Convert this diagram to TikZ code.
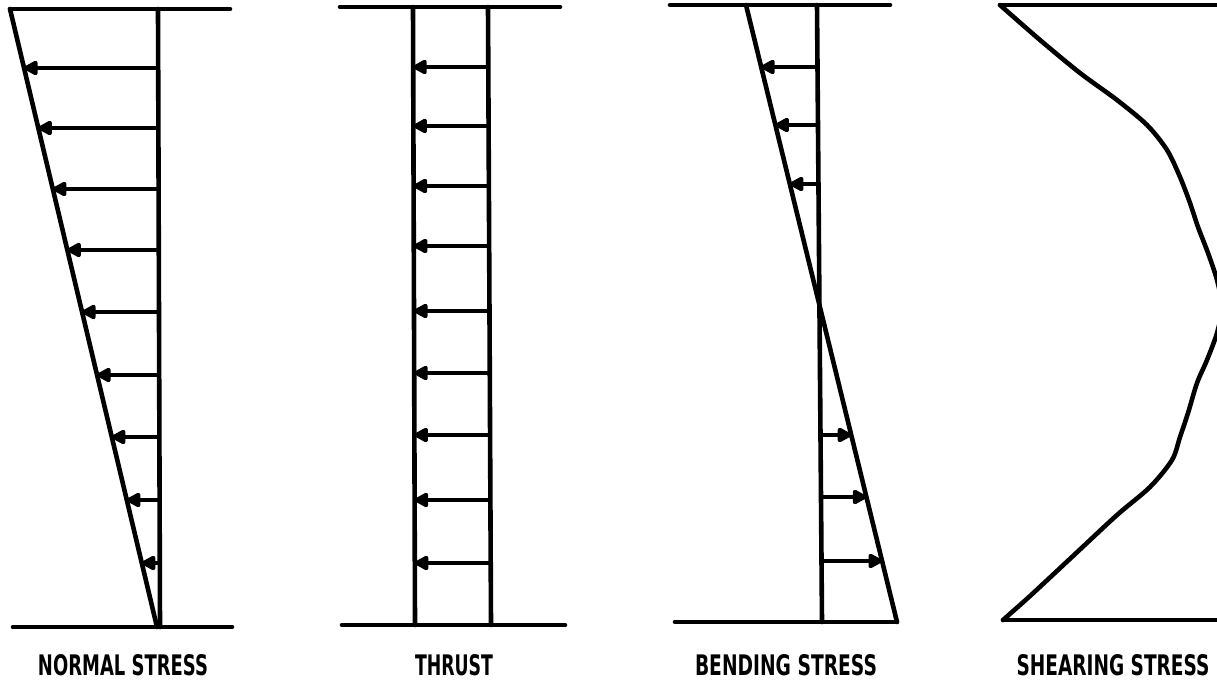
\documentclass[tikz,border=0pt]{standalone}
\usepackage{fontspec}
\setmainfont{DejaVu Sans}
\usetikzlibrary{arrows.meta,calc}
\tikzset{
  beam/.style={line width=4.6pt, line cap=round, line join=round},
  force/.style={line width=4.2pt, -{Triangle[length=16pt,width=16pt,round]}},
  lbl/.style={inner sep=0pt, anchor=center}
}
\newcommand\lblbox[2]{\resizebox{#1pt}{21pt}{\bfseries #2}}
\begin{document}
\begin{tikzpicture}[x=1pt,y=-1pt]
\useasboundingbox (0,0) rectangle (1217,680);
\clip (0,0) rectangle (1217,680);

% ---------- Panel 1: normal stress ----------
\coordinate (p1tl) at (10,9);   \coordinate (p1tr) at (230,9);
\coordinate (p1bl) at (13,627); \coordinate (p1br) at (232,627);
\coordinate (p1vt) at (158,9);  \coordinate (p1vb) at (160,627);
\coordinate (p1dt) at (10,9);   \coordinate (p1db) at (157,627);
\draw[beam] (p1tl) -- (p1tr);
\draw[beam] (p1bl) -- (p1br);
\draw[beam] (p1vt) -- (p1vb);
\draw[beam] (p1dt) -- (p1db);
\foreach \y [count=\i] in {68,128,189,250,312,375,437,500,563}{
  \coordinate (p1s\i) at ($(p1vt)!{(\y-9)/618}!(p1vb)$);
  \coordinate (p1e\i) at ($(p1dt)!{(\y-9)/618}!(p1db)$);
  \draw[force] (p1s\i) -- (p1e\i);
}
\node[lbl] (l1) at (123,665) {\lblbox{170}{NORMAL STRESS}};

% ---------- Panel 2: thrust ----------
\coordinate (p2tl) at (340,7);  \coordinate (p2tr) at (560,7);
\coordinate (p2bl) at (342,625); \coordinate (p2br) at (565,625);
\coordinate (p2at) at (413,7);  \coordinate (p2ab) at (415,625);
\coordinate (p2bt) at (488,7);  \coordinate (p2bb) at (491,625);
\draw[beam] (p2tl) -- (p2tr);
\draw[beam] (p2bl) -- (p2br);
\draw[beam] (p2at) -- (p2ab);
\draw[beam] (p2bt) -- (p2bb);
\foreach \y [count=\i] in {67,126,186,246,311,373,435,500,563}{
  \coordinate (p2s\i) at ($(p2bt)!{(\y-7)/618}!(p2bb)$);
  \coordinate (p2e\i) at ($(p2at)!{(\y-7)/618}!(p2ab)$);
  \draw[force] (p2s\i) -- (p2e\i);
}
\node[lbl] (l2) at (454,665) {\lblbox{78}{THRUST}};

% ---------- Panel 3: bending stress ----------
\coordinate (p3tl) at (670,5);  \coordinate (p3tr) at (890,5);
\coordinate (p3bl) at (675,622); \coordinate (p3br) at (897,622);
\coordinate (p3vt) at (817,5);  \coordinate (p3vb) at (822,622);
\coordinate (p3dt) at (746,5);  \coordinate (p3db) at (897,622);
\draw[beam] (p3tl) -- (p3tr);
\draw[beam] (p3bl) -- (p3br);
\draw[beam] (p3vt) -- (p3vb);
\draw[beam] (p3dt) -- (p3db);
\foreach \y [count=\i] in {67,125,184,435,497,561}{
  \coordinate (p3s\i) at ($(p3vt)!{(\y-5)/617}!(p3vb)$);
  \coordinate (p3e\i) at ($(p3dt)!{(\y-5)/617}!(p3db)$);
  \draw[force] (p3s\i) -- (p3e\i);
}
\node[lbl] (l3) at (786,665) {\lblbox{182}{BENDING STRESS}};

% ---------- Panel 4: shearing stress ----------
\coordinate (p4tl) at (1000,5);  \coordinate (p4tr) at (1220,5);
\coordinate (p4bl) at (1003,620); \coordinate (p4br) at (1220,620);
\draw[beam] (p4tl) -- (p4tr);
\draw[beam] (p4bl) -- (p4br);
\draw[beam] plot[smooth, tension=0.5] coordinates {
  (1000,5) (1040,40) (1080,73) (1117,100) (1147,125) (1167,150)
  (1180,177) (1190,203) (1198,227) (1208,253) (1217,280) (1222,307)
  (1217,333) (1207,360) (1197,383) (1188,413) (1180,437) (1172,460)
  (1150,487) (1117,515) (1073,556) (1030,596) (1003,620)};
\node[lbl] (l4) at (1113,665) {\lblbox{193}{SHEARING STRESS}};
\end{tikzpicture}
\end{document}
